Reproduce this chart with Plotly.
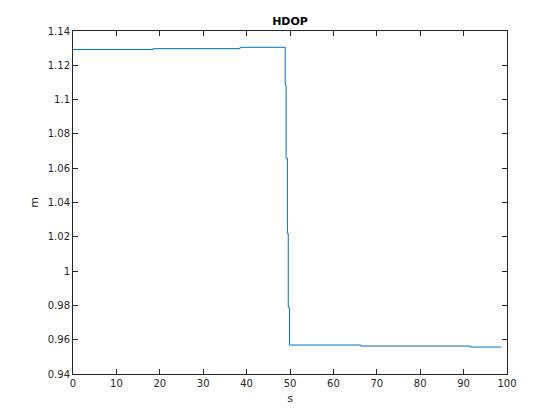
import plotly.graph_objects as go

# time (s) where the HDOP value changes, and the value held from there on
t_s = [0, 18.4, 38.5, 48.9, 49.1, 49.4, 49.6, 49.9, 66.3, 91.5, 98.7]
hdop_m = [1.1292, 1.1297, 1.1305, 1.1085, 1.0658, 1.0220, 0.9789, 0.9569, 0.9563, 0.9557, 0.9557]

x_ticks = [0, 10, 20, 30, 40, 50, 60, 70, 80, 90, 100]
y_ticks = [0.94, 0.96, 0.98, 1, 1.02, 1.04, 1.06, 1.08, 1.1, 1.12, 1.14]

axis_col = "#262626"
font_name = "DejaVu Sans"

fig = go.Figure()
fig.add_trace(go.Scatter(
    x=t_s, y=hdop_m, mode="lines",
    line=dict(color="#0072BD", width=1, shape="hv"),
    showlegend=False
))

axis_common = dict(
    showline=True, linecolor=axis_col, linewidth=1, mirror="ticks",
    ticks="inside", ticklen=5, tickcolor=axis_col, tickwidth=1,
    showgrid=False, zeroline=False, automargin=False,
    tickfont=dict(family=font_name, size=10, color=axis_col),
)

# the page body adds an 8px offset, margins are set with that in mind
fig.update_layout(
    width=560, height=420,
    paper_bgcolor="white", plot_bgcolor="white",
    margin=dict(l=65, r=61, t=23, b=54),
    title=dict(text="<b>HDOP</b>", x=0.5, xref="paper", xanchor="center",
               y=1, yref="paper", yanchor="bottom", pad=dict(b=6),
               automargin=False,
               font=dict(family=font_name, size=11, color="black")),
    xaxis=dict(range=[0, 100], tickvals=x_ticks,
               title=dict(text="s", standoff=6,
                          font=dict(family=font_name, size=11, color=axis_col)),
               **axis_common),
    yaxis=dict(range=[0.94, 1.14], tickvals=y_ticks,
               ticktext=[("%g" % v) for v in y_ticks],
               title=dict(text="m", standoff=6,
                          font=dict(family=font_name, size=11, color=axis_col)),
               **axis_common),
)

fig.write_html("out.html")
